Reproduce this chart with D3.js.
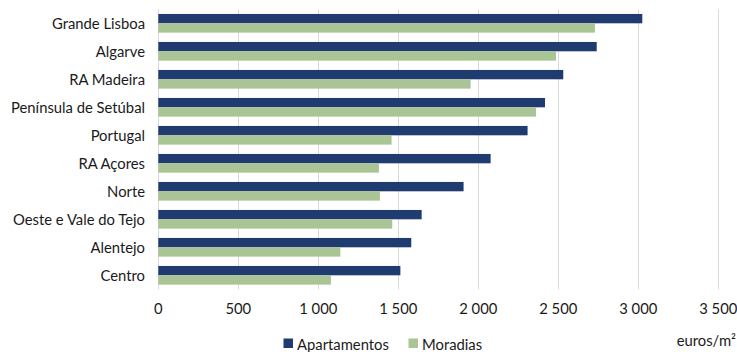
<!DOCTYPE html>
<html><head><meta charset="utf-8">
<script src="https://cdn.jsdelivr.net/npm/d3@7"></script>
<style>body{margin:0;background:#fff}svg{display:block}text{font-family:Lato,"Open Sans",sans-serif;fill:#1a1a1a}</style>
</head><body><svg id="c" width="737" height="352"></svg>
<script>
const categories = ["Grande Lisboa","Algarve","RA Madeira","Península de Setúbal","Portugal","RA Açores","Norte","Oeste e Vale do Tejo","Alentejo","Centro"];
const apartamentos = [3025,2740,2531,2417,2308,2077,1908,1646,1581,1513];
const moradias = [2729,2486,1952,2361,1458,1379,1385,1462,1138,1079];
const seriesNames = ["Apartamentos","Moradias"];
const colors = ["#1F3B70","#A9C596"];
const xTicks = [0,500,1000,1500,2000,2500,3000,3500];
const unitLabel = "euros/m²";

const svg = d3.select("#c");
const m = {left:158.3, right:718.3, top:9.3, bottom:289.3};
const x = d3.scaleLinear().domain([0,3500]).range([m.left, m.right]);
const y = d3.scaleBand().domain(categories).range([m.top, m.bottom]).paddingInner(0.333).paddingOuter(0.1665);
const fmt = v => d3.format(",")(v).replace(/,/g, " ");

svg.append("g").selectAll("line").data(xTicks).join("line")
  .attr("x1", d => Math.round(x(d))+0.5).attr("x2", d => Math.round(x(d))+0.5)
  .attr("y1", m.top).attr("y2", m.bottom)
  .attr("stroke", "#D9D9D9").attr("stroke-width", 1);

const sub = d3.scaleBand().domain([0,1]).range([0, y.bandwidth()]);
const g = svg.append("g");
categories.forEach((c, i) => {
  [apartamentos[i], moradias[i]].forEach((v, j) => {
    g.append("rect").attr("x", x(0)).attr("y", y(c) + sub(j))
      .attr("width", x(v) - x(0)).attr("height", sub.bandwidth())
      .attr("fill", colors[j]);
  });
});

svg.append("g").selectAll("text").data(categories).join("text")
  .attr("x", 145).attr("y", d => y(d) + y.bandwidth()/2)
  .attr("text-anchor", "end").attr("dominant-baseline", "central")
  .attr("font-size", 14.8).text(d => d);

svg.append("g").selectAll("text").data(xTicks).join("text")
  .attr("x", d => x(d)).attr("y", 308)
  .attr("text-anchor", "middle").attr("dominant-baseline", "central")
  .attr("font-size", 14.8).text(d => fmt(d));

const leg = svg.append("g");
const legX = [283.5, 408.5];
seriesNames.forEach((s, j) => {
  leg.append("rect").attr("x", legX[j]).attr("y", 338.5).attr("width", 9.5).attr("height", 9.5).attr("fill", colors[j]);
  leg.append("text").attr("x", legX[j] + 13.5).attr("y", 343.5).attr("dominant-baseline", "central")
    .attr("font-size", 14.8).text(s);
});

svg.append("text").attr("x", 736).attr("y", 340).attr("text-anchor", "end")
  .attr("dominant-baseline", "central").attr("font-size", 14.8).text(unitLabel);
</script></body></html>
